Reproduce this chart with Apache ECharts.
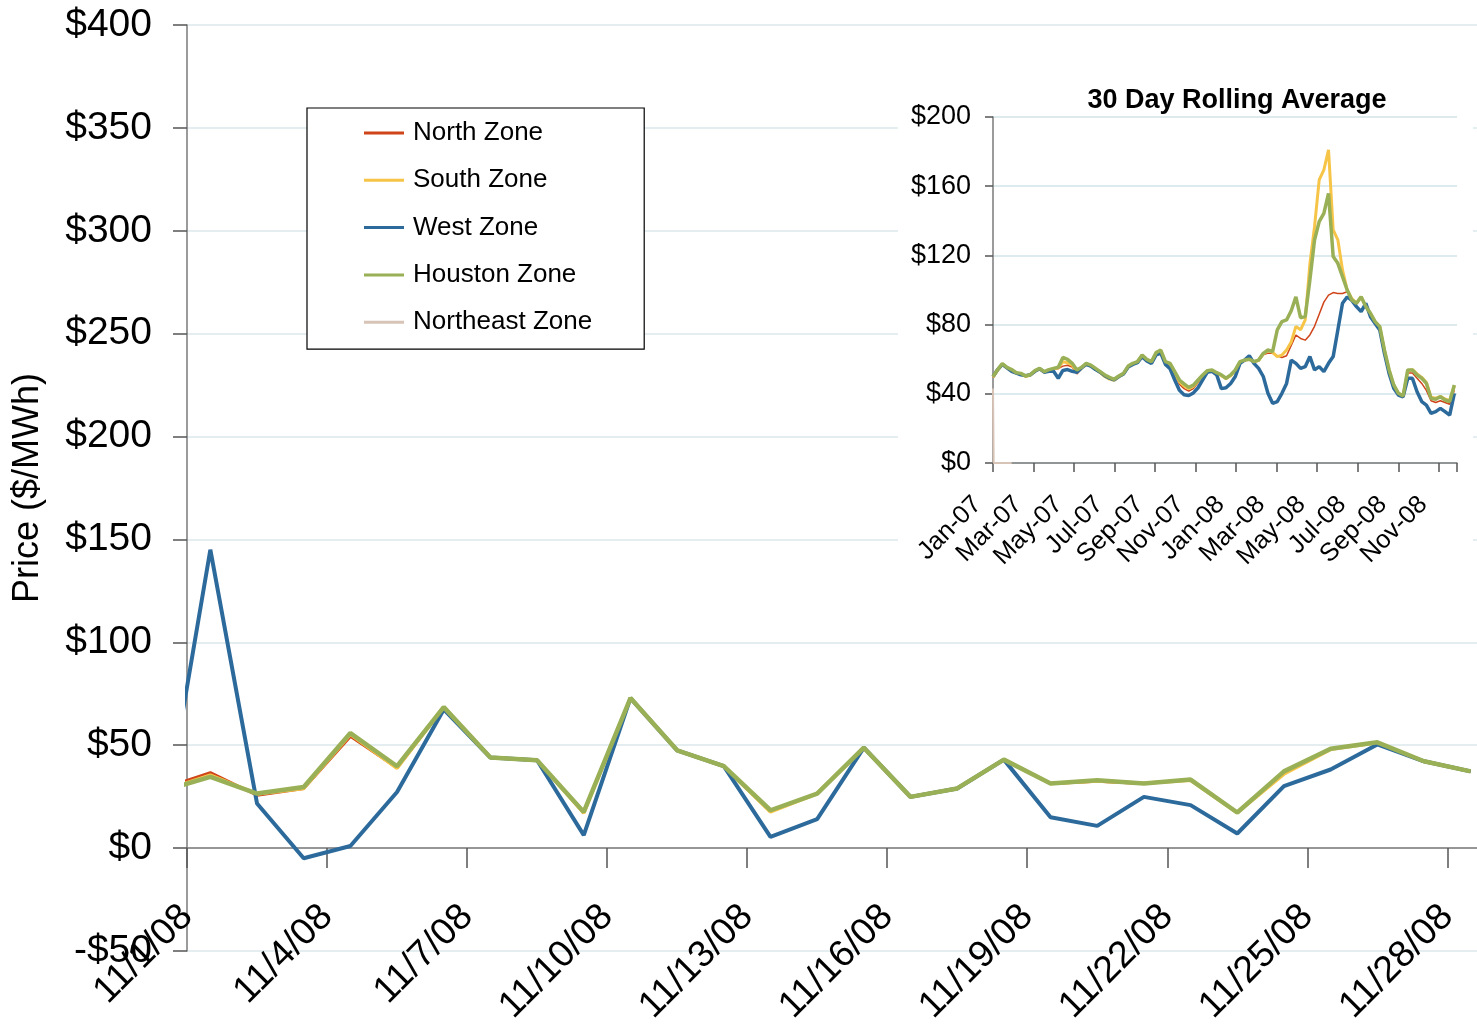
<!DOCTYPE html>
<html>
<head>
<meta charset="utf-8">
<script src="https://cdn.jsdelivr.net/npm/echarts@6/dist/echarts.min.js"></script>
<style>
html,body{margin:0;padding:0;background:#fff;}
#chart{width:1477px;height:1026px;}
</style>
</head>
<body>
<div id="chart"></div>
<script>
// ---------- Main chart: daily prices, November 2008 ----------
const mainDates = ['10/31/08','11/1/08','11/2/08','11/3/08','11/4/08','11/5/08','11/6/08','11/7/08','11/8/08','11/9/08','11/10/08',
  '11/11/08','11/12/08','11/13/08','11/14/08','11/15/08','11/16/08','11/17/08','11/18/08','11/19/08','11/20/08',
  '11/21/08','11/22/08','11/23/08','11/24/08','11/25/08','11/26/08','11/27/08','11/28/08'];
const northDaily   = [29, 36.7, 25.7, 29, 54.3, 39, 68.5, 44, 42.7, 17.6, 72.9, 47.5, 39.8, 18, 26.5, 48.8, 24.9, 29, 43, 31.4, 32.5, 31.4, 33.3, 17.3, 37, 48.3, 51.4, 42.2, 37.3];
const southDaily   = [28, 35.5, 26.3, 29, 55.3, 38.8, 68.5, 44, 42.7, 17, 72.9, 47.5, 39.8, 17.6, 26.5, 48.8, 24.9, 29, 43, 31.4, 32.6, 31.5, 33, 17.2, 36, 48, 51.2, 42.2, 37.3];
const westDaily    = [11.5, 145, 21.7, -4.9, 1, 27.3, 67.4, 44, 42.7, 6.3, 72.9, 47.5, 39.8, 5.5, 14.1, 48.8, 24.9, 29, 43, 15, 10.8, 24.9, 20.9, 7.1, 30.1, 38.2, 50.4, 42.2, 37.3];
const houstonDaily = [28, 34.6, 26.5, 29.7, 55.9, 39.8, 68.5, 44, 42.7, 17.6, 72.9, 47.5, 39.8, 18.4, 26.5, 48.8, 24.9, 29, 43, 31.4, 33, 31.4, 33.3, 17.3, 37.3, 48.3, 51.4, 42.2, 37.3];

// ---------- Inset: 30 day rolling average, weekly samples from 1 Jan 2007 ----------
const rollingStartDate = '2007-01-01';
const rollingStepDays = 7;
const rollingEndDay = 697; // 28 Nov 2008
const rollingTickLabels = ['Jan-07','Mar-07','May-07','Jul-07','Sep-07','Nov-07','Jan-08','Mar-08','May-08','Jul-08','Sep-08','Nov-08'];
const northRolling = [49.5,53.5,57,55,53.5,52,51.5,50,50.5,53,54.3,52.3,53.5,54.3,54.5,56,56.5,55.5,51.5,54.5,
  56.8,55.8,54,52.2,50,48.7,47.8,49.8,51.5,55.5,57.2,58.3,62,59.5,58.2,63.5,65,58,56.5,51,
  45.5,43,41.5,43,46.5,50.5,53,53.5,51.8,50.5,48.5,50.5,53.5,58.5,59.3,60,58.3,59,62.5,63.5,
  63.4,62,61,62,68,74,72,71,74,79,86,93,97,98.5,98,98,99,94,92,95.5,
  90,86.5,81.5,78.5,65,53.5,44.8,40,38.5,52,52,49,46,42,36,35,36,35,34,42];
const southRolling = [49.5,53.5,57,55,53.5,52,51.5,50,50.8,53,54.5,52.5,53.5,54.5,55,58.5,58,56.5,52.5,55,
  57,56,54.2,52.3,50,48.5,47.8,49.8,51.5,55.5,57.2,58.3,62,59.5,58.2,63.5,65,58.3,57,52,
  47,44.5,43,44.3,47.5,50.5,53,53.5,52,50.5,48.8,50.5,53.5,58.3,59.3,60,58.5,59.3,63,65,
  64,61.5,62.4,65.3,70,79,77,82.7,115,136.6,163.6,169.4,181,134.7,129,111.6,100,95,92.3,96,
  90.4,86.5,81.7,78.8,65.3,53.8,45,40.3,38.7,53,54,51.5,49.5,46.5,38,37.5,38.5,37,36,44.5];
const westRolling = [50,54,57,55,53,52,51,50.5,51,53,54.5,52.5,53,53,49,53.5,54,53,52.5,55,
  57,56,54,52.5,50.5,49,48,50,51.5,55.5,57,58,61.5,59,57.5,62.5,63.5,57,54.5,48,
  42,39.5,39,40.5,43.5,48,52.5,53,51,43,43.5,46,50,57.6,59.5,62,57.6,54.7,50,40.3,
  34.5,35.5,40.3,46,59.5,57.6,54.7,55.7,61.5,53.8,55.7,52.8,57.6,61.5,76.9,92.3,96,94,90.4,87.5,
  92.3,84.6,80.7,76.9,63.4,51.8,43.2,39.3,38.3,49,49,41.2,35.5,33.5,28.7,29.7,31.6,29.7,27.7,40.3];
const houstonRolling = [50,54,57.5,55.3,54,52.2,51.8,50.3,51,53.4,54.7,52.8,54,54.7,55.3,61,59.9,57.6,53.8,55.3,
  57.6,56.6,54.7,52.8,50.9,49.5,48.4,50.3,51.8,56,57.6,58.6,62.4,59.9,58.6,63.8,65.3,58.6,57.6,52.8,
  48,45.7,43.7,45,48,50.9,53.4,53.8,52.2,50.9,49,50.9,53.8,58.6,59.5,60,58.6,59.5,63.4,65.3,
  64.4,76.9,81.7,82.7,88,96,84,84.6,105.8,128.9,139.5,144.3,155.9,119.3,115.4,107.7,100,94.2,92.3,96.1,
  90.4,86.5,81.7,78.8,65.3,53.8,45.1,40.3,38.7,53.8,53.8,50.9,49,46,37.4,36.8,38.3,36.4,35.5,45.1];
const northeastRollingDays = [0, 1, 7, 14, 21, 28];
const northeastRolling = [43, 0, 0, 0, 0, 0];

const colors = {
  'North Zone': '#CF4419',
  'South Zone': '#F6C447',
  'West Zone': '#2D6A9C',
  'Houston Zone': '#9AB057',
  'Northeast Zone': '#D8C4B6'
};
const FONT = 'Liberation Sans, Arial, sans-serif';

function rollingPairs(values) {
  return values.map((v, i) => [i * rollingStepDays, v]);
}
const twoMonths = 730.5 / 12;

function money(v) { return v < 0 ? '-$' + (-v) : '$' + v; }

const chart = echarts.init(document.getElementById('chart'), null, { renderer: 'canvas' });

const option = {
  animation: false,
  backgroundColor: '#ffffff',
  textStyle: { fontFamily: FONT },
  title: {
    text: '30 Day Rolling Average',
    left: 1232, top: 82, textAlign: 'center',
    textStyle: { fontSize: 27, fontWeight: 'bold', color: '#000', fontFamily: FONT }
  },
  legend: {
    orient: 'vertical',
    left: 307, top: 108,
    padding: [12, 52, 14, 57],
    itemWidth: 40, itemHeight: 3, itemGap: 21.3,
    icon: 'rect',
    backgroundColor: '#ffffff',
    borderColor: '#000', borderWidth: 1.2,
    textStyle: { fontSize: 26, color: '#000', fontFamily: FONT, padding: [0, 0, 0, 4] },
    data: [
      { name: 'North Zone' },
      { name: 'South Zone' },
      { name: 'West Zone' },
      { name: 'Houston Zone' },
      { name: 'Northeast Zone' }
    ],
    selectedMode: false
  },
  graphic: [
    { type: 'rect', shape: { x: 898, y: 60, width: 575, height: 518 }, style: { fill: '#ffffff' }, z: 1, silent: true }
  ],
  grid: [
    { left: 187, top: 25, width: 1307, height: 926, outerBoundsMode: 'none', containLabel: false },
    { left: 993, top: 117, width: 464, height: 346, outerBoundsMode: 'none', containLabel: false }
  ],
  xAxis: [
    {
      gridIndex: 0, type: 'category', data: mainDates, min: 1, boundaryGap: true, show: false,
      axisLine: { onZero: false }
    },
    {
      gridIndex: 0, type: 'value', position: 'bottom', min: 0, max: 28, interval: 3,
      axisLine: { show: true, onZero: true, onZeroAxisIndex: 0, lineStyle: { color: '#7a7a7a', width: 1.5 } },
      axisTick: { show: true, inside: false, length: 20, lineStyle: { color: '#555', width: 1.5 } },
      axisLabel: {
        rotate: 45, margin: -40, fontSize: 37.5, color: '#000', fontFamily: FONT,
        formatter: v => (v % 3 === 0 && mainDates[v + 1]) ? mainDates[v + 1] : ''
      },
      splitLine: { show: false }
    },
    {
      gridIndex: 1, type: 'value', min: 0, max: rollingEndDay, interval: twoMonths, z: 3,
      axisLine: { show: true, onZero: false, lineStyle: { color: '#7a7a7a', width: 1.5 } },
      axisTick: { show: true, inside: false, length: 9, lineStyle: { color: '#555', width: 1.5 } },
      axisLabel: {
        rotate: 45, margin: 22, fontSize: 25.5, color: '#000', fontFamily: FONT,
        padding: [0, 22, 0, 0],
        formatter: v => {
          const k = Math.round(v / twoMonths);
          if (Math.abs(v - k * twoMonths) > 0.5) return '';
          return rollingTickLabels[k] || '';
        }
      },
      splitLine: { show: false }
    }
  ],
  yAxis: [
    {
      gridIndex: 0, type: 'value', min: -50, max: 400, interval: 50,
      name: 'Price ($/MWh)', nameLocation: 'middle', nameGap: 141,
      nameTextStyle: { fontSize: 36, color: '#000', fontFamily: FONT },
      axisLine: { show: true, onZero: false, lineStyle: { color: '#7a7a7a', width: 1.5 } },
      axisTick: { show: true, inside: false, length: 14, lineStyle: { color: '#555', width: 1.5 } },
      axisLabel: { fontSize: 39, color: '#000', margin: 35, fontFamily: FONT, formatter: money },
      splitLine: { show: true, lineStyle: { color: '#dbe8eb', width: 1.5 } }
    },
    {
      gridIndex: 1, type: 'value', min: 0, max: 200, interval: 40, z: 3,
      axisLine: { show: true, onZero: false, lineStyle: { color: '#7a7a7a', width: 1.5 } },
      axisTick: { show: true, inside: false, length: 8, lineStyle: { color: '#555', width: 1.5 } },
      axisLabel: { fontSize: 27, color: '#000', margin: 22, fontFamily: FONT, formatter: money },
      splitLine: { show: true, lineStyle: { color: '#d3e4e8', width: 1.5 } }
    }
  ],
  series: [
    // main chart
    { name: 'North Zone', type: 'line', xAxisIndex: 0, yAxisIndex: 0, data: northDaily, symbol: 'none', z: 2,
      lineStyle: { color: colors['North Zone'], width: 3 }, itemStyle: { color: colors['North Zone'] } },
    { name: 'South Zone', type: 'line', xAxisIndex: 0, yAxisIndex: 0, data: southDaily, symbol: 'none', z: 2,
      lineStyle: { color: colors['South Zone'], width: 3.5 }, itemStyle: { color: colors['South Zone'] } },
    { name: 'West Zone', type: 'line', xAxisIndex: 0, yAxisIndex: 0, data: westDaily, symbol: 'none', z: 2,
      lineStyle: { color: colors['West Zone'], width: 4 }, itemStyle: { color: colors['West Zone'] } },
    { name: 'Houston Zone', type: 'line', xAxisIndex: 0, yAxisIndex: 0, data: houstonDaily, symbol: 'none', z: 2,
      lineStyle: { color: colors['Houston Zone'], width: 4.5 }, itemStyle: { color: colors['Houston Zone'] } },
    // inset
    { name: 'Northeast Zone', type: 'line', xAxisIndex: 2, yAxisIndex: 1, z: 4, symbol: 'none',
      data: northeastRollingDays.map((d, i) => [d, northeastRolling[i]]),
      lineStyle: { color: colors['Northeast Zone'], width: 2 }, itemStyle: { color: colors['Northeast Zone'] } },
    { name: 'North Zone', type: 'line', xAxisIndex: 2, yAxisIndex: 1, z: 4, symbol: 'none', data: rollingPairs(northRolling),
      lineStyle: { color: colors['North Zone'], width: 1.5 }, itemStyle: { color: colors['North Zone'] } },
    { name: 'South Zone', type: 'line', xAxisIndex: 2, yAxisIndex: 1, z: 4, symbol: 'none', data: rollingPairs(southRolling),
      lineStyle: { color: colors['South Zone'], width: 3 }, itemStyle: { color: colors['South Zone'] } },
    { name: 'West Zone', type: 'line', xAxisIndex: 2, yAxisIndex: 1, z: 4, symbol: 'none', data: rollingPairs(westRolling),
      lineStyle: { color: colors['West Zone'], width: 3.5 }, itemStyle: { color: colors['West Zone'] } },
    { name: 'Houston Zone', type: 'line', xAxisIndex: 2, yAxisIndex: 1, z: 4, symbol: 'none', data: rollingPairs(houstonRolling),
      lineStyle: { color: colors['Houston Zone'], width: 3.5 }, itemStyle: { color: colors['Houston Zone'] } }
  ]
};
chart.setOption(option);
</script>
</body>
</html>
